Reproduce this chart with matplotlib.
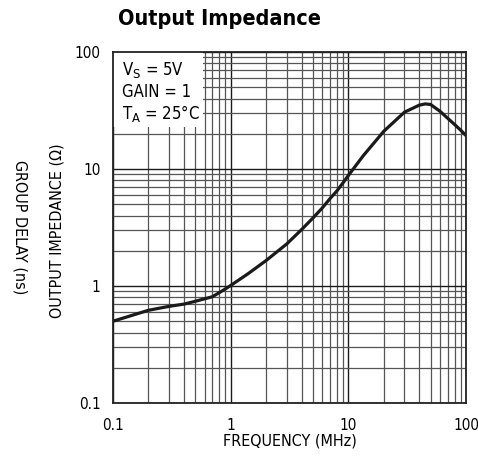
import matplotlib
matplotlib.use("Agg")
import matplotlib.pyplot as plt
from matplotlib import font_manager
from matplotlib.patches import Rectangle
from matplotlib.ticker import LogLocator, NullFormatter, FixedLocator, FixedFormatter

# narrow helvetica look if available
names = {f.name for f in font_manager.fontManager.ttflist}
if "Liberation Sans Narrow" in names:
    FONT = "Liberation Sans Narrow"
    STRETCH = "normal"
else:
    FONT = "DejaVu Sans"
    STRETCH = "condensed"
plt.rcParams["font.family"] = [FONT, "DejaVu Sans"]
plt.rcParams["mathtext.fontset"] = "custom"
plt.rcParams["mathtext.rm"] = FONT
plt.rcParams["mathtext.it"] = FONT

# values
freq_mhz = [0.1, 0.2, 0.3, 0.4, 0.5, 0.7, 0.85, 1.0, 1.4, 2.0, 3.0, 4.0, 5.0,
            6.0, 7.0, 8.0, 9.0, 10.0, 13.4, 20.0, 30.0, 40.0, 45.0, 50.0,
            60.0, 70.0, 80.0, 90.0, 100.0]
z_out = [0.50, 0.62, 0.67, 0.70, 0.74, 0.81, 0.91, 1.01, 1.27, 1.65, 2.29, 3.03, 3.81,
         4.64, 5.6, 6.5, 7.6, 8.8, 13.0, 21.0, 30.6, 35.1, 36.0, 35.6,
         31.2, 27.1, 24.0, 21.5, 19.3]

tick_vals = [0.1, 1, 10, 100]
tick_text = ["0.1", "1", "10", "100"]

fig = plt.figure(figsize=(4.78, 4.58), dpi=100)
ax = fig.add_axes([113 / 478, 1 - 403 / 458, 353 / 478, 351 / 458])

ax.plot(freq_mhz, z_out, color="#1a1a1a", lw=2.3, solid_capstyle="round", zorder=4)
ax.set_xscale("log")
ax.set_yscale("log")
ax.set_xlim(0.1, 100)
ax.set_ylim(0.1, 100)

for axis in (ax.xaxis, ax.yaxis):
    axis.set_major_locator(FixedLocator(tick_vals))
    axis.set_major_formatter(FixedFormatter(tick_text))
    axis.set_minor_locator(LogLocator(base=10, subs=range(2, 10), numticks=20))
    axis.set_minor_formatter(NullFormatter())

ax.grid(which="major", color="#1a1a1a", lw=1.0)
ax.grid(which="minor", color="#555555", lw=0.9)
ax.tick_params(which="both", length=0, labelsize=11)
ax.tick_params(axis="x", pad=11)
ax.tick_params(axis="y", pad=9)
for lab in ax.get_xticklabels() + ax.get_yticklabels():
    lab.set_fontstretch(STRETCH)
for sp in ax.spines.values():
    sp.set_color("#222222")
    sp.set_linewidth(1.3)
    sp.set_zorder(6)

# white patch behind the conditions note
ax.add_patch(Rectangle((0, 0.786), 0.255, 0.214, transform=ax.transAxes,
                       facecolor="white", edgecolor="none", zorder=3))
ax.text(0.025, 0.976,
        "V$_\\mathrm{S}$ = 5V\nGAIN = 1\nT$_\\mathrm{A}$ = 25°C",
        transform=ax.transAxes, ha="left", va="top", fontsize=12,
        linespacing=1.15, fontstretch=STRETCH, zorder=5)

fig.text(118 / 478, 1 - 19 / 458, "Output Impedance", fontsize=15.5, fontweight="bold",
         ha="left", va="center", fontstretch=STRETCH)
fig.text(290 / 478, 1 - 441 / 458, "FREQUENCY (MHz)", fontsize=11.5,
         ha="center", va="center", fontstretch=STRETCH)
fig.text(57 / 478, 1 - 231 / 458, "OUTPUT IMPEDANCE (Ω)", fontsize=11.5, rotation=90,
         ha="center", va="center", fontstretch=STRETCH)
fig.text(20 / 478, 1 - 227 / 458, "GROUP DELAY (ns)", fontsize=11.5, rotation=270,
         ha="center", va="center", fontstretch=STRETCH)

fig.savefig("out.png", dpi=100)
